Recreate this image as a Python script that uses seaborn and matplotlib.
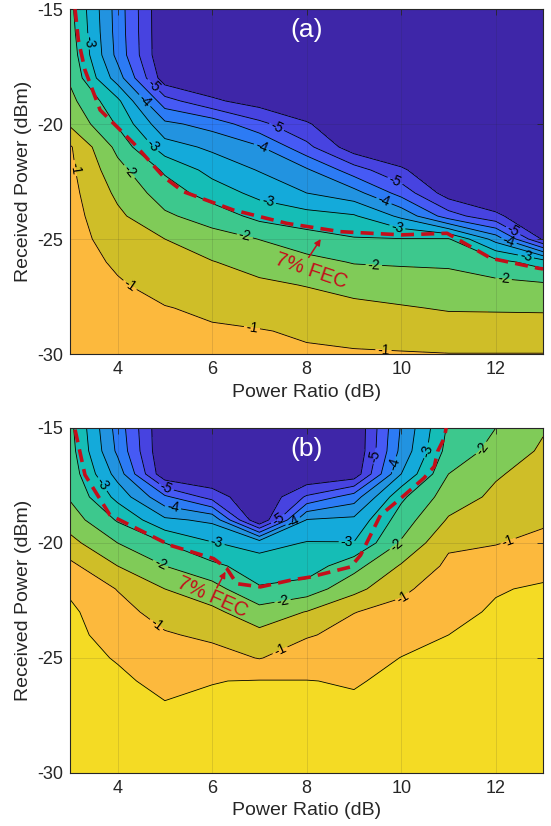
import matplotlib
matplotlib.use("Agg")
import matplotlib.pyplot as plt
import numpy as np
import seaborn as sns

# measurement grid
power_ratio = [3, 4, 5, 6, 7, 8, 9, 10, 11, 12, 13]
received_power = [-15, -16, -17, -18, -19, -20, -21, -22, -23, -24, -25, -26, -27, -28, -29, -30]

# log10(BER), one row per received power (top row = -15 dBm)
ber_a = [
    [-2.37, -4.22, -6.00, -6.00, -6.00, -6.00, -6.00, -6.00, -6.00, -6.00, -6.00],
    [-2.30, -4.20, -6.00, -6.00, -6.00, -6.00, -6.00, -6.00, -6.00, -6.00, -6.00],
    [-2.20, -4.15, -6.00, -6.00, -6.00, -6.00, -6.00, -6.00, -6.00, -6.00, -6.00],
    [-2.08, -3.75, -5.80, -6.00, -6.00, -6.00, -6.00, -6.00, -6.00, -6.00, -6.00],
    [-1.86, -2.88, -4.80, -5.40, -5.75, -6.00, -6.00, -6.00, -6.00, -6.00, -6.00],
    [-1.58, -2.56, -3.88, -4.19, -4.86, -5.44, -6.00, -6.00, -6.00, -6.00, -6.00],
    [-0.95, -2.14, -3.28, -3.60, -3.95, -4.86, -5.80, -6.00, -6.00, -6.00, -6.00],
    [-0.90, -1.83, -2.58, -3.17, -3.53, -3.93, -4.77, -5.42, -6.00, -6.00, -6.00],
    [-0.85, -1.60, -2.24, -2.73, -3.15, -3.50, -3.81, -4.69, -5.75, -6.00, -6.00],
    [-0.82, -1.40, -1.92, -2.22, -2.65, -2.81, -2.95, -3.61, -4.77, -5.39, -6.00],
    [-0.80, -1.23, -1.50, -1.80, -2.01, -2.28, -2.46, -2.48, -2.46, -3.70, -5.58],
    [-0.78, -1.07, -1.33, -1.48, -1.69, -1.85, -2.03, -2.06, -2.08, -2.33, -2.72],
    [-0.76, -0.95, -1.16, -1.28, -1.41, -1.52, -1.67, -1.75, -1.80, -1.86, -1.91],
    [-0.74, -0.90, -0.98, -1.08, -1.18, -1.28, -1.38, -1.46, -1.54, -1.55, -1.56],
    [-0.72, -0.85, -0.90, -0.95, -0.98, -1.05, -1.13, -1.20, -1.27, -1.27, -1.27],
    [-0.70, -0.80, -0.85, -0.90, -0.92, -0.95, -0.96, -0.97, -0.99, -0.99, -0.99],
]

ber_b = [
    [-2.37, -4.20, -6.00, -6.00, -6.00, -6.00, -6.00, -3.95, -2.42, -2.00, -1.55],
    [-2.30, -4.10, -6.00, -6.00, -6.00, -6.00, -6.00, -3.85, -2.30, -1.85, -1.42],
    [-2.20, -3.70, -5.90, -6.00, -6.00, -6.00, -5.85, -3.50, -2.00, -1.55, -1.30],
    [-2.06, -3.15, -4.40, -5.20, -6.00, -4.93, -4.25, -2.60, -1.75, -1.40, -1.20],
    [-1.75, -2.55, -3.40, -3.60, -6.00, -3.47, -3.38, -2.25, -1.45, -1.25, -1.07],
    [-1.35, -2.00, -2.50, -2.97, -3.20, -2.97, -2.98, -1.95, -1.08, -1.02, -0.88],
    [-0.88, -1.50, -2.00, -2.38, -2.75, -2.78, -2.17, -1.45, -0.90, -0.80, -0.63],
    [-0.57, -1.02, -1.50, -1.80, -2.45, -2.27, -1.66, -1.08, -0.78, -0.53, -0.45],
    [-0.42, -0.82, -1.20, -1.39, -1.80, -1.48, -1.01, -0.88, -0.62, -0.45, -0.40],
    [-0.38, -0.68, -0.95, -1.10, -1.36, -1.04, -0.86, -0.68, -0.50, -0.40, -0.37],
    [-0.35, -0.53, -0.80, -0.81, -1.02, -0.76, -0.72, -0.49, -0.44, -0.37, -0.35],
    [-0.33, -0.42, -0.62, -0.51, -0.48, -0.49, -0.53, -0.42, -0.40, -0.35, -0.33],
    [-0.30, -0.38, -0.48, -0.45, -0.42, -0.44, -0.45, -0.38, -0.37, -0.33, -0.31],
    [-0.28, -0.35, -0.42, -0.40, -0.38, -0.40, -0.42, -0.35, -0.34, -0.31, -0.30],
    [-0.26, -0.32, -0.38, -0.36, -0.35, -0.36, -0.38, -0.32, -0.32, -0.30, -0.28],
    [-0.25, -0.30, -0.35, -0.33, -0.32, -0.33, -0.35, -0.30, -0.30, -0.28, -0.27],
]

# 7% FEC threshold boundary
fec_a_ratio = [3.10, 3.17, 3.31, 3.63, 4.34, 4.97, 5.39, 6.45, 7.58, 8.71, 10.00, 10.97, 11.90, 12.90, 13.00]
fec_a_power = [-15.0, -16.35, -17.65, -19.39, -20.84, -22.29, -22.94, -23.74, -24.32, -24.68, -24.82, -24.75, -25.84, -26.27, -26.3]
fec_b_ratio = [3.10, 3.31, 3.84, 5.11, 6.03, 6.31, 6.52, 7.02, 7.66, 8.08, 8.93, 9.14, 9.56, 9.99, 10.48, 10.70, 10.77, 10.91, 10.95]
fec_b_power = [-15.07, -17.04, -18.79, -20.1, -20.68, -21.11, -21.77, -21.91, -21.62, -21.48, -21.04, -20.53, -18.79, -18.06, -17.18, -16.67, -16.02, -15.44, -15.0]

half_levels = [-5.5, -4.5, -3.5, -2.5, -1.5, -0.5]
label_levels = [-5.0, -4.0, -3.0, -2.0, -1.0]
fill_levels = [-6.5, -5.5, -5.0, -4.5, -4.0, -3.5, -3.0, -2.5, -2.0, -1.5, -1.0, -0.5, 0.0]
band_colors = ['#3E26A8', '#4743E0', '#465AF5', '#2C7BF5', '#2293E0', '#14AADA',
               '#15BDB6', '#3DC88D', '#80CB58', '#CFBE28', '#FCB93D', '#F4DB24']

FEC_RED = '#C40E1A'

sns.set_theme(style="white")
plt.rcParams['font.family'] = ['Liberation Sans', 'DejaVu Sans']
plt.rcParams['axes.unicode_minus'] = False

fig = plt.figure(figsize=(5.51, 8.26), dpi=100)
ax_a = fig.add_axes([0.1276, 0.5714, 0.858, 0.4177])
ax_b = fig.add_axes([0.1276, 0.0642, 0.858, 0.4177])


def draw_panel(ax, ber, fec_x, fec_y, tag, label_spots, text_xy, text_rot, arrow_tail, arrow_tip):
    X, Y = np.meshgrid(power_ratio, received_power)
    Z = np.array(ber)
    ax.contourf(X, Y, Z, levels=fill_levels, colors=band_colors, zorder=1)
    ax.contour(X, Y, Z, levels=half_levels, colors='black', linewidths=0.6,
               linestyles='solid', zorder=2)
    cs = ax.contour(X, Y, Z, levels=label_levels, colors='black', linewidths=0.6,
                    linestyles='solid', zorder=2)
    ax.clabel(cs, fmt='%d', fontsize=10, inline=True, inline_spacing=2, manual=label_spots)
    ax.plot(fec_x, fec_y, color=FEC_RED, lw=2.6, dashes=(3.6, 2.0), zorder=4)

    ax.annotate('', xy=arrow_tip, xytext=arrow_tail,
                arrowprops=dict(arrowstyle='-|>', color=FEC_RED, lw=1.1, mutation_scale=9), zorder=5)
    ax.text(text_xy[0], text_xy[1], '7% FEC', color=FEC_RED, fontsize=14.5,
            rotation=text_rot, ha='center', va='center', zorder=5)
    ax.text(0.5, 0.94, tag, transform=ax.transAxes, color='white', fontsize=19,
            ha='center', va='center', zorder=5)

    ax.set_xlim(3, 13)
    ax.set_ylim(-30, -15)
    ax.set_xticks([4, 6, 8, 10, 12])
    ax.set_yticks([-30, -25, -20, -15])
    ax.tick_params(direction='in', top=True, right=True, length=4, width=0.6,
                   labelsize=13, colors='#262626', pad=5)
    ax.set_axisbelow(False)
    ax.grid(True, color='#262626', alpha=0.15, lw=0.6)
    for sp in ax.spines.values():
        sp.set_color('#262626')
        sp.set_linewidth(0.8)
    ax.set_xlabel('Power Ratio (dB)', fontsize=14, color='#262626', labelpad=4)
    ax.set_ylabel('Received Power (dBm)', fontsize=14, color='#262626', labelpad=4)


draw_panel(ax_a, ber_a, fec_a_ratio, fec_a_power, '(a)',
           [(3.17, -21.9), (4.26, -27.0), (6.84, -28.9), (9.63, -29.6),
            (4.23, -22.1), (6.7, -24.8), (9.42, -26.17), (12.17, -26.64),
            (3.42, -16.4), (4.65, -21.1), (7.16, -23.6), (9.92, -24.47), (12.63, -25.84),
            (4.51, -19.1), (7.02, -21.1), (9.6, -23.52), (12.25, -25.26),
            (4.69, -18.45), (7.4, -19.97), (9.84, -22.6), (12.3, -24.9)],
           (8.1, -26.4), -19, (8.01, -25.9), (8.33, -24.9))

draw_panel(ax_b, ber_b, fec_b_ratio, fec_b_power, '(b)',
           [(4.83, -23.52), (7.44, -24.68), (10.03, -22.35), (12.28, -20.02),
            (4.86, -21.1), (7.5, -22.64), (9.95, -20.24), (11.64, -15.8),
            (3.66, -17.47), (6.1, -19.95), (8.85, -19.95), (10.6, -16.0),
            (5.18, -18.35), (7.76, -19.3), (10.0, -16.67),
            (5.04, -17.47), (7.44, -19.07), (9.52, -16.24)],
           (6.0, -22.34), -24, (6.07, -22.06), (6.31, -21.14))

fig.savefig('out.png', dpi=100)
